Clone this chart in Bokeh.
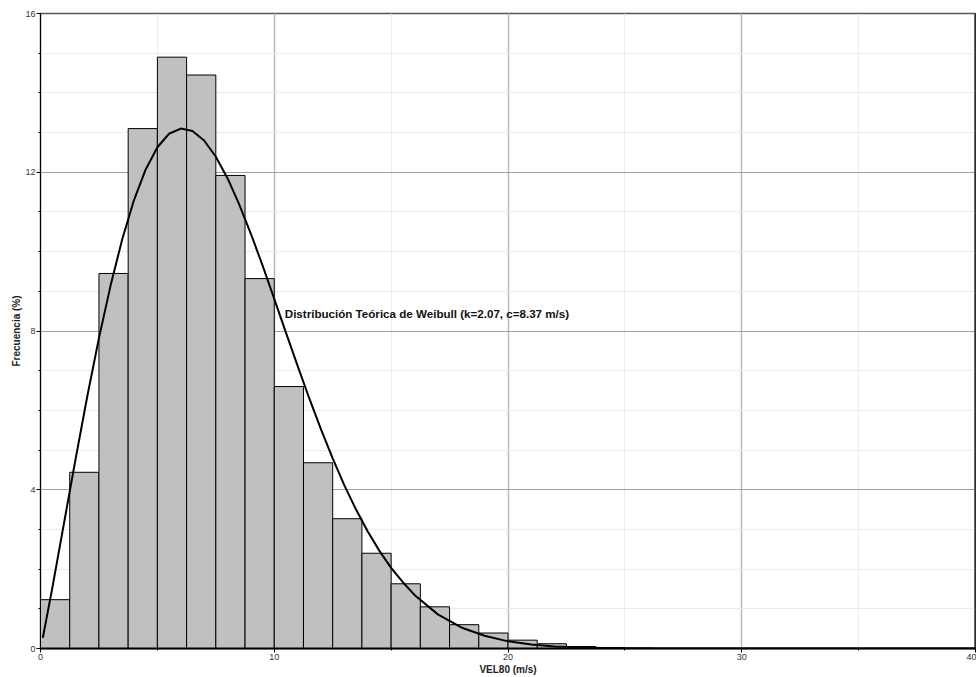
import numpy as np
from bokeh.plotting import figure
from bokeh.models import (SingleIntervalTicker, Range1d, Label, Span, ColumnDataSource)
from bokeh.embed import file_html
from bokeh.resources import INLINE

# ---- data ----
bin_width = 1.25
freq = [1.23, 4.44, 9.45, 13.1, 14.9, 14.45, 11.92, 9.32, 6.6, 4.68, 3.27,
        2.40, 1.63, 1.05, 0.60, 0.39, 0.21, 0.12, 0.05, 0.02, 0.01]

weib_v = [0.1, 0.5, 1, 1.5, 2, 2.5, 3, 3.5, 4, 4.5, 5, 5.5, 6, 6.5, 7, 7.5, 8,
          8.5, 9, 9.5, 10, 10.5, 11, 11.5, 12, 12.5, 13, 13.5, 14, 14.5, 15,
          15.5, 16, 17, 18, 19, 20, 21, 22, 23, 24, 25, 26, 28, 30, 35, 40]
weib_f = [0.27, 1.51, 3.14, 4.77, 6.35, 7.82, 9.15, 10.32, 11.30, 12.07, 12.63,
          12.97, 13.10, 13.04, 12.80, 12.39, 11.85, 11.19, 10.45, 9.65, 8.81,
          7.96, 7.12, 6.30, 5.52, 4.79, 4.11, 3.50, 2.95, 2.46, 2.03, 1.67,
          1.35, 0.86, 0.53, 0.32, 0.18, 0.10, 0.05, 0.03, 0.014, 0.007, 0.003,
          0.0005, 0.0001, 0.0, 0.0]

x_label = "VEL80 (m/s)"
y_label = "Frecuencia (%)"
note = "Distribución Teórica de Weibull (k=2.07, c=8.37 m/s)"
note_x, note_y = 10.45, 8.45

FONT = "Liberation Sans"

left = np.arange(len(freq)) * bin_width
bars = ColumnDataSource(dict(left=left, right=left + bin_width, top=freq,
                             bottom=np.zeros(len(freq))))

p = figure(frame_width=935, frame_height=635, output_backend="svg",
           toolbar_location=None, x_range=Range1d(0, 40), y_range=Range1d(0, 16),
           min_border_left=40, min_border_right=1, min_border_top=13,
           min_border_bottom=0, background_fill_color="white",
           border_fill_color="white")

p.outline_line_color = "#555555"
p.outline_line_width = 1.5

p.quad(left="left", right="right", top="top", bottom="bottom", source=bars,
       fill_color="#C0C0C0", line_color="#000000", line_width=1)

p.line(weib_v, weib_f, line_color="black", line_width=2)

p.add_layout(Label(x=note_x, y=note_y, text=note, text_font=FONT,
                   text_font_size="11.6px", text_font_style="bold",
                   text_baseline="middle", text_align="left", text_color="#111111"))

p.add_layout(Span(location=40, dimension="height", line_color="black", line_width=2))

# axes
p.xaxis.ticker = SingleIntervalTicker(interval=10, num_minor_ticks=2)
p.yaxis.ticker = SingleIntervalTicker(interval=4, num_minor_ticks=4)
for ax in (p.xaxis[0], p.yaxis[0]):
    ax.major_label_text_font = FONT
    ax.major_label_text_font_size = "9px"
    ax.major_label_text_color = "#333333"
    ax.axis_label_text_font = FONT
    ax.axis_label_text_font_size = "10px"
    ax.axis_label_text_font_style = "bold"
    ax.axis_label_text_color = "#222222"
    ax.axis_line_color = "black"
    ax.major_tick_line_color = "black"
    ax.minor_tick_line_color = "black"
    ax.major_tick_in = 0
    ax.major_tick_out = 4
    ax.minor_tick_in = 0
    ax.minor_tick_out = 2
    ax.major_label_standoff = 1
    ax.axis_label_standoff = 1

p.yaxis.axis_label_standoff = 0
p.xaxis.axis_label = x_label
p.yaxis.axis_label = y_label
p.xaxis.axis_line_width = 2
p.yaxis.axis_line_width = 1

# grid
p.xgrid.grid_line_color = "#BBBBBB"
p.xgrid.grid_line_width = 1.5
p.ygrid.grid_line_color = "#A0A0A0"
p.ygrid.grid_line_width = 1
p.xgrid.minor_grid_line_color = "#EBEBEB"
p.ygrid.minor_grid_line_color = "#EBEBEB"
p.xgrid.level = "underlay"
p.ygrid.level = "underlay"

open("out.html", "w").write(file_html(p, INLINE))
